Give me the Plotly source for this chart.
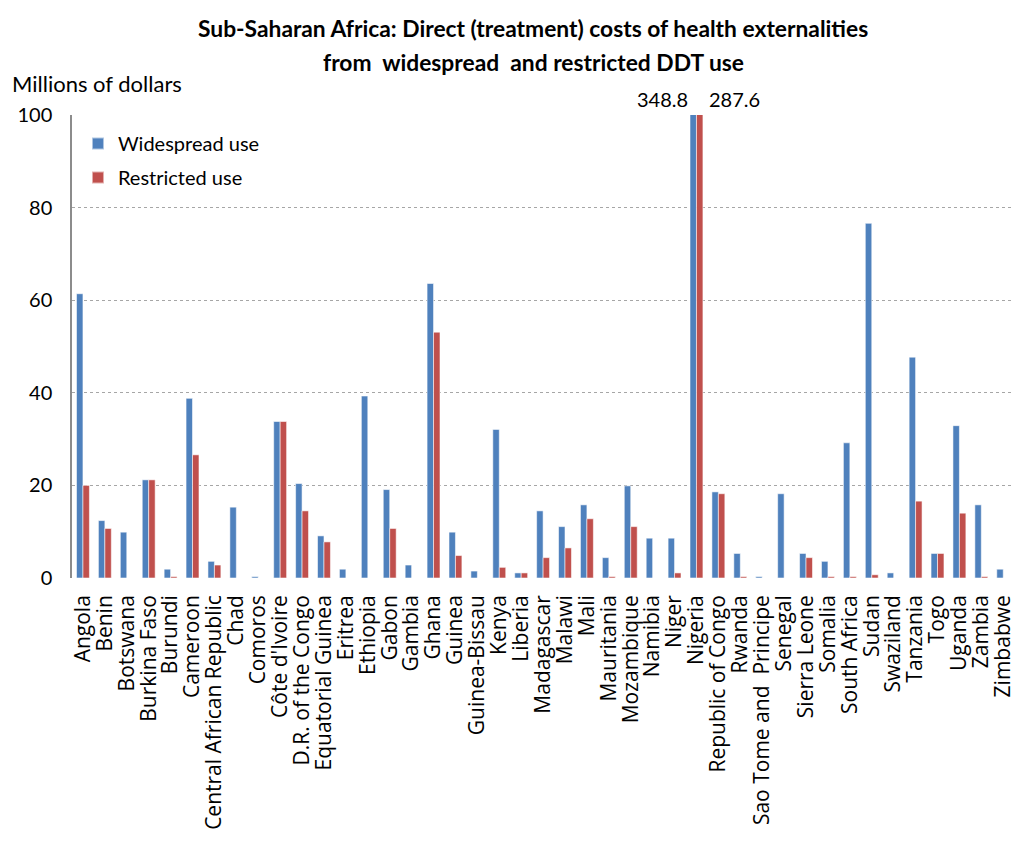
import plotly.graph_objects as go

countries = [
    "Angola", "Benin", "Botswana", "Burkina Faso", "Burundi", "Cameroon",
    "Central African Republic", "Chad", "Comoros", "Côte d'Ivoire",
    "D.R. of the Congo", "Equatorial Guinea", "Eritrea", "Ethiopia", "Gabon",
    "Gambia", "Ghana", "Guinea", "Guinea-Bissau", "Kenya", "Liberia",
    "Madagascar", "Malawi", "Mali", "Mauritania", "Mozambique", "Namibia",
    "Niger", "Nigeria", "Republic of Congo", "Rwanda", "Sao Tome and  Principe",
    "Senegal", "Sierra Leone", "Somalia", "South Africa", "Sudan", "Swaziland",
    "Tanzania", "Togo", "Uganda", "Zambia", "Zimbabwe",
]

widespread = [
    61.4, 12.4, 9.9, 21.2, 1.9, 38.8, 3.6, 15.3, 0.3, 33.8,
    20.4, 9.1, 1.9, 39.3, 19.1, 2.8, 63.6, 9.9, 1.5, 32.1, 1.1,
    14.5, 11.1, 15.8, 4.4, 19.9, 8.6, 8.6, 348.8, 18.6, 5.3, 0.3,
    18.2, 5.3, 3.6, 29.2, 76.6, 1.1, 47.7, 5.3, 32.9, 15.8, 1.9,
]

restricted = [
    20.0, 10.7, 0.0, 21.2, 0.3, 26.6, 2.8, 0.0, 0.0, 33.8,
    14.5, 7.8, 0.0, 0.0, 10.7, 0.0, 53.1, 4.85, 0.0, 2.3, 1.1,
    4.4, 6.5, 12.8, 0.3, 11.1, 0.0, 1.1, 287.6, 18.2, 0.3, 0.0,
    0.0, 4.4, 0.3, 0.3, 0.7, 0.0, 16.6, 5.3, 14.0, 0.3, 0.0,
]

y_ticks = [0, 20, 40, 60, 80, 100]

BLUE = "#4F81BD"
RED = "#C0504D"
FONT = "Lato"

W, H = 1016, 848
L, R, T, B = 72, 0, 115, 270
PW, PH = W - L - R, H - T - B


def px(x):
    """Horizontal pixel -> paper coordinate."""
    return (x - L) / PW


def py(y):
    """Vertical pixel (from top) -> paper coordinate."""
    return (H - B - y) / PH


fig = go.Figure()
fig.add_trace(go.Bar(
    x=countries, y=widespread, name="Widespread use", legendgroup="w",
    marker=dict(color=BLUE, line=dict(color="rgba(255,255,255,0.55)", width=1)),
))
fig.add_trace(go.Bar(
    x=countries, y=restricted, name="Restricted use", legendgroup="r",
    marker=dict(color=RED, line=dict(color="rgba(255,255,255,0.55)", width=1)),
))

# Off-scale values for the clipped Nigeria bars
nigeria = countries.index("Nigeria")
fig.add_annotation(
    x=countries[nigeria], y=100, xref="x", yref="y",
    text=f"{widespread[nigeria]:.1f}", showarrow=False,
    xanchor="right", yanchor="bottom", xshift=-6, yshift=2,
    font=dict(family=FONT, size=20, color="#000"),
)
fig.add_annotation(
    x=countries[nigeria], y=100, xref="x", yref="y",
    text=f"{restricted[nigeria]:.1f}", showarrow=False,
    xanchor="left", yanchor="bottom", xshift=11, yshift=2,
    font=dict(family=FONT, size=20, color="#000"),
)

# Axis unit label
fig.add_annotation(
    x=px(10), y=py(84), xref="paper", yref="paper", text="Millions of dollars",
    showarrow=False, xanchor="left", yanchor="middle",
    font=dict(family=FONT, size=22, color="#000"),
)

# Two-line bold title
title_lines = [
    "Sub-Saharan Africa: Direct (treatment) costs of health externalities",
    "from  widespread  and restricted DDT use",
]
for line, yc in zip(title_lines, [28, 62]):
    fig.add_annotation(
        x=px(535), y=py(yc), xref="paper", yref="paper", text=f"<b>{line}</b>",
        showarrow=False, xanchor="center", yanchor="middle",
        font=dict(family=FONT, size=22.8, color="#000"),
    )

fig.update_layout(
    width=W, height=H,
    paper_bgcolor="white", plot_bgcolor="white",
    margin=dict(l=L, r=R, t=T, b=B),
    barmode="group", bargap=0.41, bargroupgap=0.0,
    legend=dict(
        x=px(78), y=py(124), xanchor="left", yanchor="top",
        bgcolor="rgba(0,0,0,0)", font=dict(family=FONT, size=20, color="#000"),
        itemsizing="constant", tracegroupgap=5, itemwidth=30,
    ),
    font=dict(family=FONT, color="#000"),
)

fig.update_xaxes(
    type="category", range=[-0.5, 42.4], tickangle=-90,
    tickmode="array", tickvals=countries, ticktext=countries,
    tickfont=dict(family="Open Sans", size=21, color="#000"),
    showgrid=False, showline=False, ticks="", ticklabelstandoff=12,
)
fig.update_yaxes(
    range=[0, 100], tickvals=y_ticks, ticktext=[str(v) for v in y_ticks],
    tickfont=dict(family=FONT, size=20, color="#000"),
    showgrid=True, gridcolor="#A6A6A6", griddash="dot", gridwidth=1,
    zeroline=False, showline=True, linecolor="#8C8C8C", linewidth=1.5,
    ticks="", ticklabelstandoff=14,
)

fig.write_html("out.html")
